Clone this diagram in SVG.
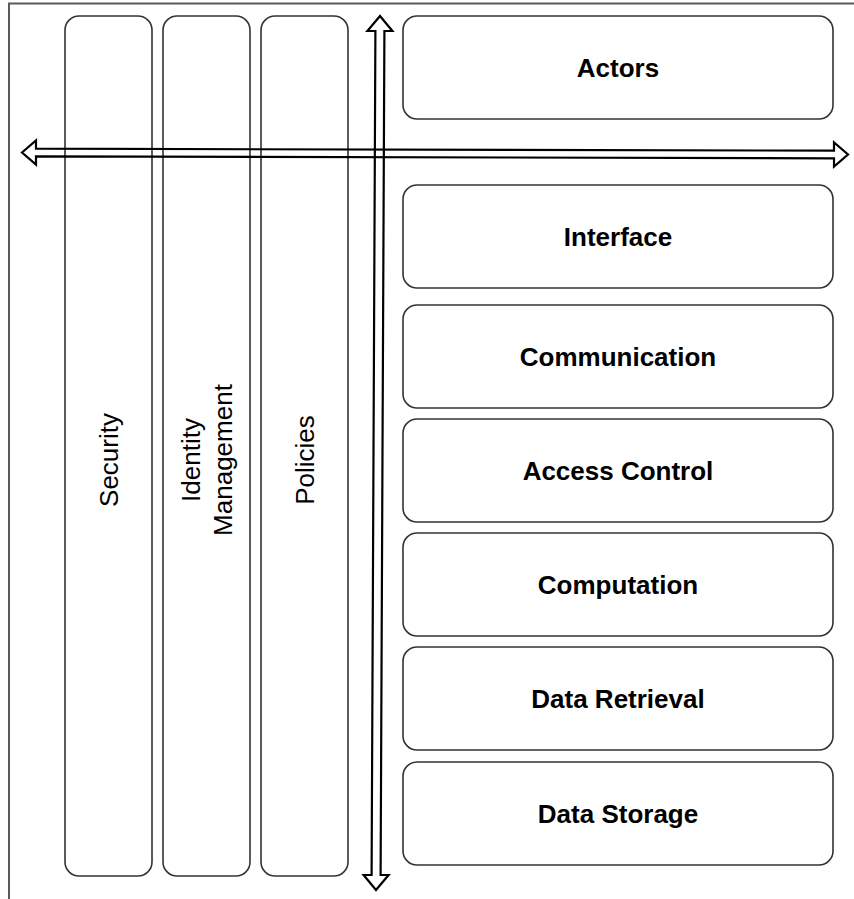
<svg xmlns="http://www.w3.org/2000/svg" width="854" height="899" viewBox="0 0 854 899">
  <style>
    .box { fill: #ffffff; stroke: #333333; stroke-width: 1.6; }
    .lbl { font-family: "Liberation Sans", Arial, sans-serif; font-size: 26px; font-weight: bold; fill: #000000; text-anchor: middle; }
    .vlbl { font-family: "Liberation Sans", Arial, sans-serif; font-size: 26px; fill: #000000; text-anchor: middle; }
    .frame { stroke: #5a5a5a; stroke-width: 2; fill: none; }
    .arrow { fill: none; stroke: #000000; stroke-width: 2.2; stroke-linejoin: miter; }
  </style>
  <rect x="0" y="0" width="854" height="899" fill="#ffffff"/>
  <path class="frame" d="M9,899 L9,3.5 L854,3.5"/>

  <g id="security">
    <rect class="box" x="65" y="16" width="87" height="860" rx="14" ry="14"/>
    <text class="vlbl" transform="translate(118,460) rotate(-90)">Security</text>
  </g>
  <g id="identity-management">
    <rect class="box" x="163" y="16" width="87" height="860" rx="14" ry="14"/>
    <text class="vlbl" transform="translate(200,460) rotate(-90)">Identity</text>
    <text class="vlbl" transform="translate(232,460) rotate(-90)">Management</text>
  </g>
  <g id="policies">
    <rect class="box" x="261" y="16" width="87" height="860" rx="14" ry="14"/>
    <text class="vlbl" transform="translate(313.5,460) rotate(-90)">Policies</text>
  </g>

  <g id="actors">
    <rect class="box" x="403" y="16" width="430" height="103" rx="14" ry="14"/>
    <text class="lbl" x="618" y="77">Actors</text>
  </g>
  <g id="interface">
    <rect class="box" x="403" y="185" width="430" height="103" rx="14" ry="14"/>
    <text class="lbl" x="618" y="246">Interface</text>
  </g>
  <g id="communication">
    <rect class="box" x="403" y="305" width="430" height="103" rx="14" ry="14"/>
    <text class="lbl" x="618" y="366">Communication</text>
  </g>
  <g id="access-control">
    <rect class="box" x="403" y="419" width="430" height="103" rx="14" ry="14"/>
    <text class="lbl" x="618" y="480">Access Control</text>
  </g>
  <g id="computation">
    <rect class="box" x="403" y="533" width="430" height="103" rx="14" ry="14"/>
    <text class="lbl" x="618" y="594">Computation</text>
  </g>
  <g id="data-retrieval">
    <rect class="box" x="403" y="647" width="430" height="103" rx="14" ry="14"/>
    <text class="lbl" x="618" y="708">Data Retrieval</text>
  </g>
  <g id="data-storage">
    <rect class="box" x="403" y="762" width="430" height="103" rx="14" ry="14"/>
    <text class="lbl" x="618" y="823">Data Storage</text>
  </g>

  <g id="connectors">
    <polygon class="arrow" points="22,152.5 36,140.5 36,148.7 834,150.7 834,142.5 848,154.5 834,166.5 834,158.3 36,156.3 36,164.5"/>
    <polygon class="arrow" points="380,16 392.4,31 384.4,31 380.6,875 388.6,875 376,890 363.6,875 371.6,875 375.4,31 367.4,31"/>
  </g>
</svg>
